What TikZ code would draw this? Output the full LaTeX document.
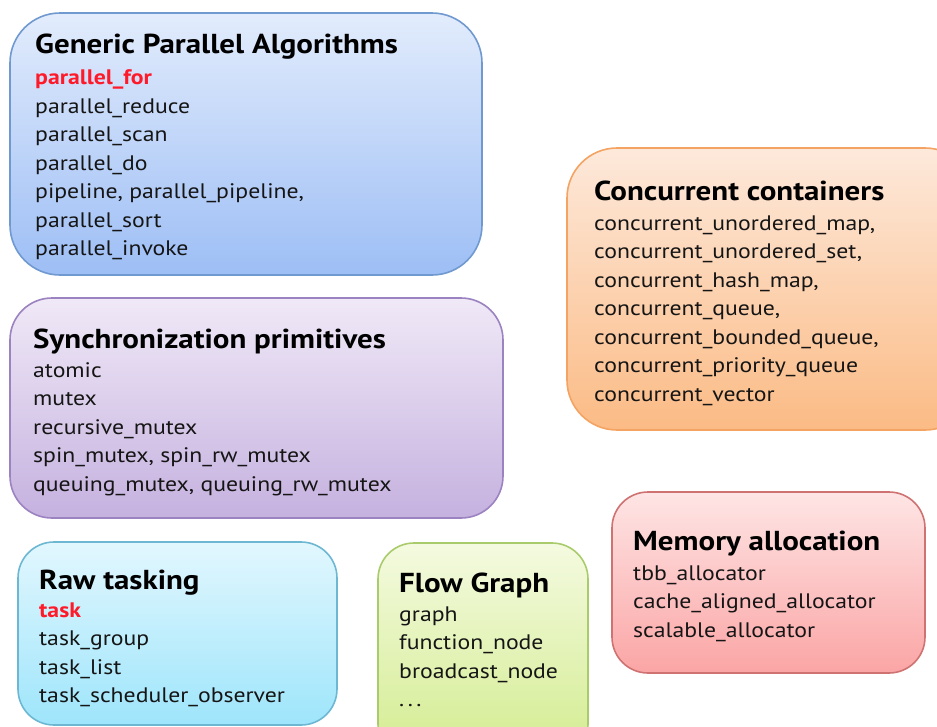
\documentclass[tikz,border=0pt]{standalone}
\usepackage{fontspec}
\setmainfont{PT Sans}[FakeStretch=1.13]
\usetikzlibrary{shadings}
\definecolor{txt}{HTML}{151515}
\definecolor{hot}{HTML}{FF1A2A}
\definecolor{bluetop}{HTML}{E2ECFC}\definecolor{bluebot}{HTML}{9DBEF5}\definecolor{blueline}{HTML}{7099D0}
\definecolor{purtop}{HTML}{F0E9F7}\definecolor{purbot}{HTML}{C5B1DF}\definecolor{purline}{HTML}{9B82C0}
\definecolor{orgtop}{HTML}{FDE9DB}\definecolor{orgbot}{HTML}{FBBB85}\definecolor{orgline}{HTML}{F4A362}
\definecolor{cyntop}{HTML}{E2F7FE}\definecolor{cynbot}{HTML}{9EE5FB}\definecolor{cynline}{HTML}{6DB7D3}
\definecolor{grntop}{HTML}{F4FAE0}\definecolor{grnbot}{HTML}{D3EC8F}\definecolor{grnline}{HTML}{A9CB6B}
\definecolor{redtop}{HTML}{FEE5E5}\definecolor{redbot}{HTML}{FBA5A5}\definecolor{redline}{HTML}{CF7272}
\tikzset{
  box/.style={draw, line width=1.6pt, inner sep=0pt},
  title/.style={anchor=base west, inner sep=0pt, font=\fontsize{27.4}{32}\selectfont\bfseries, text=black},
  items/.style={anchor=north west, inner sep=0pt, align=left, text=txt, font=\fontsize{21}{28.5}\selectfont},
}
\newcommand{\hl}[1]{\textcolor{hot}{\bfseries #1}}
\newcommand{\wdots}{.\kern3.5pt.\kern3.5pt.}
\begin{document}
\begin{tikzpicture}[x=1pt,y=-1pt]
\useasboundingbox (0,0) rectangle (937,726);
\clip (0,0) rectangle (937,726);
% boxes
\path[box, draw=blueline, top color=bluetop, bottom color=bluebot, rounded corners=50pt] (10,13) rectangle (482,275);
\path[box, draw=purline, top color=purtop, bottom color=purbot, rounded corners=42pt] (10,298) rectangle (503,518);
\path[box, draw=orgline, top color=orgtop, bottom color=orgbot, rounded corners=50pt] (567,148) rectangle (975,430);
\path[box, draw=cynline, top color=cyntop, bottom color=cynbot, rounded corners=36pt] (18,542) rectangle (337,725);
\path[box, draw=grnline, top color=grntop, bottom color=grnbot, rounded corners=36pt] (378,543) rectangle (588,760);
\path[box, draw=redline, top color=redtop, bottom color=redbot, rounded corners=36pt] (612,492) rectangle (925,673);
% texts
\node[title] (t1) at (35,53) {Generic Parallel Algorithms};
\node[items] (i1) at (35,84.5-20) {\strut\hl{parallel\_for}\\parallel\_reduce\\parallel\_scan\\parallel\_do\\pipeline, parallel\_pipeline,\\parallel\_sort\\parallel\_invoke};
\node[title] (t2) at (33,348) {Synchronization primitives};
\node[items] (i2) at (33,377-20) {\strut atomic\\mutex\\recursive\_mutex\\spin\_mutex, spin\_rw\_mutex\\queuing\_mutex, queuing\_rw\_mutex};
\node[title] (t3) at (594,200) {Concurrent containers};
\node[items] (i3) at (594,230-20) {\strut concurrent\_unordered\_map,\\concurrent\_unordered\_set,\\concurrent\_hash\_map,\\concurrent\_queue,\\concurrent\_bounded\_queue,\\concurrent\_priority\_queue\\concurrent\_vector};
\node[title] (t4) at (39,589) {Raw tasking};
\node[items] (i4) at (39,617-20) {\strut\hl{task}\\task\_group\\task\_list\\task\_scheduler\_observer};
\node[title] (t5) at (399,592) {Flow Graph};
\node[items] (i5) at (399,621-20) {\strut graph\\function\_node\\broadcast\_node\\\wdots};
\node[title] (t6) at (633,550) {Memory allocation};
\node[items] (i6) at (633,580-20) {\strut tbb\_allocator\\cache\_aligned\_allocator\\scalable\_allocator};
\end{tikzpicture}
\end{document}
